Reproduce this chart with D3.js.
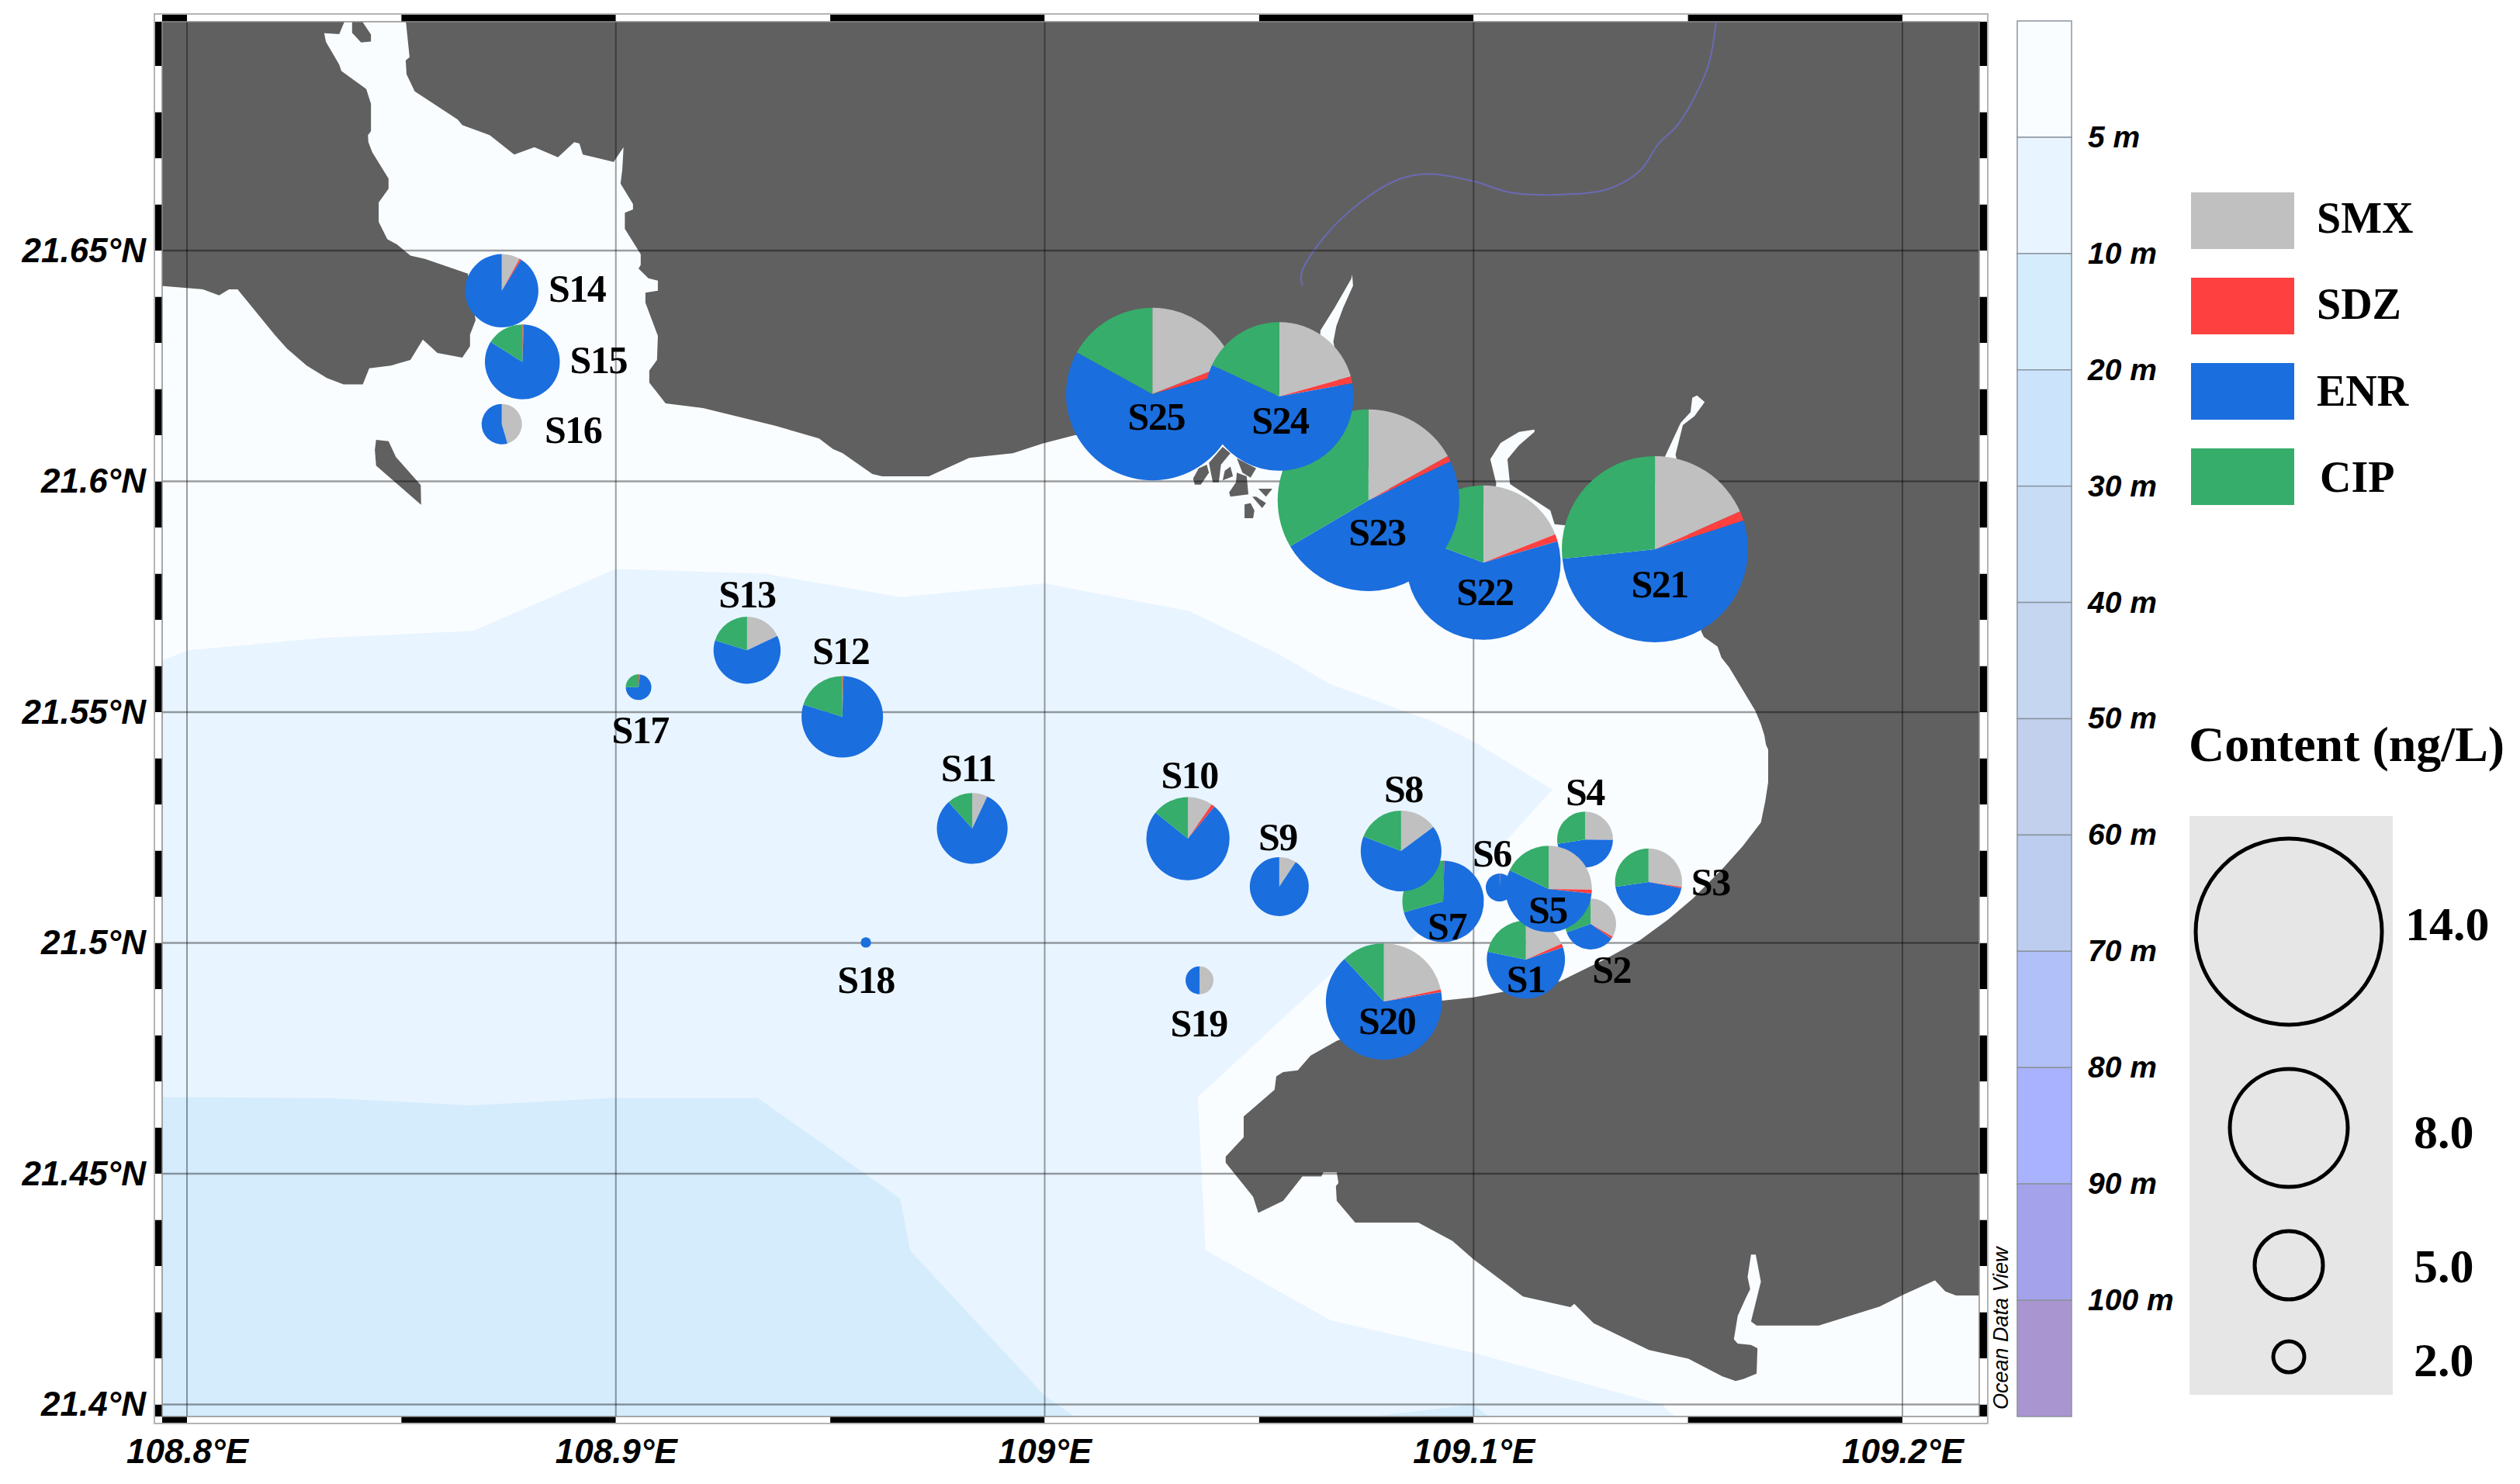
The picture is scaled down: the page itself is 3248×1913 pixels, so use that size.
<!DOCTYPE html>
<html>
<head>
<meta charset="utf-8">
<script src="https://cdn.jsdelivr.net/npm/d3@7"></script>
<style>
  html, body { margin: 0; padding: 0; background: #fff; }
  svg { display: block; }
  .tick-label text { font-family: "Liberation Sans", Arial, sans-serif; font-weight: bold; font-style: italic; fill: #000; }
  .serif { font-family: "Liberation Serif", "Times New Roman", serif; font-weight: bold; fill: #000; }
</style>
</head>
<body>
<div id="chart"></div>
<script>
// station values, ng/L
const stationNames = ["S1","S2","S3","S4","S5","S6","S7","S8","S9","S10","S11","S12","S13","S14","S15","S16","S17","S18","S19","S20","S21","S22","S23","S24","S25"];
const stationLon = [109.1122,109.1273,109.1408,109.1260,109.1175,109.1061,109.0929,109.0831,109.0547,109.0334,108.9831,108.9528,108.9306,108.8734,108.8782,108.8734,108.9053,108.9583,109.0361,109.0791,109.1423,109.1023,109.0755,109.0547,109.0251];
const stationLat = [21.4964,21.5041,21.5132,21.5224,21.5117,21.5120,21.5090,21.5199,21.5122,21.5226,21.5248,21.5490,21.5634,21.6413,21.6259,21.6124,21.5554,21.5001,21.4919,21.4873,21.5853,21.5824,21.5959,21.6184,21.6189];
const smx = [1.03,1.20,1.34,1.01,1.54,0,0,0.85,0.40,0.57,0.36,0,0.88,0.43,0,1.25,0,0,0.90,1.71,2.57,2.13,2.30,2.21,2.44];
const sdz = [0.09,0.05,0.03,0,0.09,0.01,0.03,0,0,0.08,0,0.03,0,0.04,0.03,0,0.03,0,0,0.06,0.23,0.17,0.14,0.16,0.20];
const enr = [3.26,1.26,2.19,1.89,3.38,1.79,4.07,3.80,3.85,4.41,4.19,4.60,3.03,4.83,4.50,1.50,1.21,0.67,0.90,5.18,7.47,6.74,6.61,6.39,7.99];
const cip = [1.22,1.09,1.34,1.10,1.09,0,1.70,1.10,0,0.84,0.60,1.17,0.99,0,0.87,0,0.41,0,0,0.94,3.73,2.16,4.55,1.93,2.17];

// later names sit on top
const drawOrder = ["S21","S22","S23","S25","S24","S20","S7","S8","S1","S2","S4","S6","S5","S3","S9","S10","S11","S12","S13","S14","S15","S16","S17","S18","S19"];

const speciesNames = ["SMX","SDZ","ENR","CIP"];
const speciesColors = ["#c0c0c0","#ff4040","#1a6ede","#36ad6a"];

const lonTicks = [108.8,108.9,109,109.1,109.2];
const latTicks = [21.4,21.45,21.5,21.55,21.6,21.65];

const depthLabels = ["5 m","10 m","20 m","30 m","40 m","50 m","60 m","70 m","80 m","90 m","100 m"];
const depthColors = ["#fafdff","#e8f4ff","#d5ecfd","#cbe3fb","#c8dcf5","#c5d6f0","#c2d0ee","#bccdf0","#b2c0f9","#a9b2fe","#a5a2ec","#a996d0"];

const sizeValues = [14,8,5,2];
const sizeLabels = ["14.0","8.0","5.0","2.0"];

// outlines, [lon, lat]
const depth5 = [[108.79,21.5605],[108.7945,21.5613],[108.8002,21.5634],[108.8319,21.5661],[108.8668,21.5676],[108.8999,21.5810],[108.9348,21.5800],[108.9664,21.5749],[108.9999,21.5779],[109.0337,21.5719],[109.0549,21.5624],[109.0665,21.5561],[109.0905,21.5480],[109.1005,21.5434],[109.1184,21.5332],[109.1000,21.5144],[109.0929,21.5068],[109.0848,21.5001],[109.0748,21.4992],[109.0681,21.4945],[109.0357,21.4666],[109.0375,21.4334],[109.0668,21.4182],[109.0999,21.4112],[109.1439,21.4000],[109.1498,21.395],[108.79,21.395]];
const depth10 = [[108.79,21.4666],[108.8329,21.4664],[108.8660,21.4648],[108.8991,21.4664],[108.9331,21.4664],[108.9663,21.4446],[108.9686,21.4334],[109.0001,21.4018],[109.0107,21.395],[108.79,21.395]];
const depth10b = [[109.0766,21.3974],[109.0999,21.4000],[109.1036,21.3974]];

const westLand = [[108.8369,21.70],[108.8355,21.6969],[108.8320,21.6971],[108.8324,21.6952],[108.8355,21.6903],[108.8360,21.6889],[108.8418,21.6850],[108.8429,21.6818],[108.8429,21.6759],[108.8422,21.6750],[108.8423,21.6735],[108.8432,21.6713],[108.8470,21.6656],[108.8470,21.6634],[108.8447,21.6604],[108.8447,21.6562],[108.8467,21.6525],[108.8490,21.6513],[108.8521,21.6489],[108.8555,21.6482],[108.8655,21.6450],[108.8673,21.6349],[108.8660,21.6318],[108.8660,21.6293],[108.8642,21.6268],[108.8584,21.6278],[108.8550,21.6307],[108.8521,21.6263],[108.8476,21.6251],[108.8425,21.6245],[108.8410,21.6210],[108.8365,21.6210],[108.8326,21.6224],[108.8279,21.6251],[108.8233,21.6288],[108.8204,21.6318],[108.8118,21.6416],[108.8098,21.6416],[108.8075,21.6403],[108.8037,21.6416],[108.7945,21.6423],[108.79,21.6423],[108.79,21.70]];
const estuaryIsland = [[108.8385,21.70],[108.8385,21.6972],[108.8406,21.6951],[108.8429,21.6953],[108.8429,21.6968],[108.8406,21.70]];
const mainland = [[108.8510,21.70],[108.8519,21.6919],[108.8510,21.6912],[108.8512,21.6882],[108.8531,21.6845],[108.8631,21.6784],[108.8642,21.6772],[108.8706,21.6750],[108.8763,21.6708],[108.8810,21.6724],[108.8865,21.6702],[108.8903,21.6735],[108.8915,21.6732],[108.8923,21.6708],[108.8995,21.6692],[108.9018,21.6724],[108.9015,21.6675],[108.9011,21.6645],[108.9040,21.6601],[108.9040,21.6589],[108.9021,21.6582],[108.9021,21.6547],[108.9058,21.6492],[108.9058,21.6469],[108.9053,21.6461],[108.9076,21.6440],[108.9098,21.6435],[108.9098,21.6413],[108.9069,21.6409],[108.9069,21.6387],[108.9098,21.6315],[108.9096,21.6263],[108.9078,21.6240],[108.9078,21.6214],[108.9116,21.6169],[108.9203,21.6159],[108.9373,21.6120],[108.9474,21.6093],[108.9506,21.6070],[108.9529,21.6061],[108.9598,21.6016],[108.9621,21.6011],[108.9730,21.6011],[108.9824,21.6051],[108.9926,21.6061],[108.9995,21.6082],[109.0070,21.6100],[109.0278,21.6102],[109.0459,21.6135],[109.0639,21.6253],[109.0643,21.6327],[109.0676,21.6376],[109.0715,21.6439],[109.0717,21.6448],[109.0719,21.6424],[109.0696,21.6376],[109.0680,21.6336],[109.0673,21.6302],[109.0685,21.6253],[109.0676,21.6102],[109.0820,21.5967],[109.0965,21.5900],[109.1047,21.5967],[109.1053,21.5995],[109.1039,21.6048],[109.1063,21.6083],[109.1106,21.6107],[109.1142,21.6112],[109.1142,21.6107],[109.1106,21.6078],[109.1079,21.6048],[109.1085,21.5994],[109.1179,21.5937],[109.1189,21.5907],[109.1210,21.5905],[109.1363,21.5900],[109.1446,21.6034],[109.1446,21.6053],[109.1483,21.6127],[109.1506,21.6150],[109.1510,21.6181],[109.1521,21.6186],[109.1539,21.6172],[109.1515,21.6141],[109.1488,21.6122],[109.1471,21.6058],[109.1481,21.6018],[109.1531,21.5675],[109.1537,21.5663],[109.1569,21.5642],[109.1578,21.5618],[109.1596,21.5597],[109.1657,21.5503],[109.1670,21.5474],[109.1678,21.5450],[109.1682,21.5429],[109.1687,21.5419],[109.1687,21.5348],[109.1680,21.5306],[109.1670,21.5261],[109.1628,21.5210],[109.1582,21.5162],[109.1511,21.5096],[109.1454,21.5051],[109.1388,21.5006],[109.1311,21.4967],[109.1202,21.4917],[109.0999,21.4882],[109.0925,21.4875],[109.0681,21.4788],[109.0620,21.4756],[109.0590,21.4724],[109.0556,21.4720],[109.0540,21.4711],[109.0536,21.4682],[109.0464,21.4624],[109.0464,21.4579],[109.0422,21.4537],[109.0422,21.4524],[109.0486,21.4450],[109.0498,21.4415],[109.0556,21.4441],[109.0601,21.4494],[109.0645,21.4494],[109.0650,21.4503],[109.0681,21.4503],[109.0685,21.4480],[109.0679,21.4473],[109.0681,21.4441],[109.0724,21.4394],[109.0871,21.4394],[109.0951,21.4354],[109.0999,21.4315],[109.1115,21.4234],[109.1226,21.4211],[109.1235,21.4218],[109.1280,21.4176],[109.1409,21.4118],[109.1501,21.4099],[109.1580,21.4061],[109.1611,21.4051],[109.1629,21.4055],[109.1660,21.4067],[109.1662,21.4122],[109.1647,21.4129],[109.1616,21.4132],[109.1607,21.4141],[109.1616,21.4192],[109.1635,21.4231],[109.1645,21.4250],[109.1639,21.4276],[109.1647,21.4325],[109.1658,21.4325],[109.1670,21.4266],[109.1647,21.4180],[109.1660,21.4171],[109.1805,21.4171],[109.1947,21.4212],[109.2002,21.4238],[109.2076,21.4269],[109.2100,21.4245],[109.2125,21.4236],[109.225,21.4236],[109.225,21.70]];
const westIsland = [[108.8441,21.6090],[108.8470,21.6087],[108.8487,21.6053],[108.8545,21.5992],[108.8546,21.5949],[108.8441,21.6034],[108.8438,21.6068]];
const smallIslands = [
  [[109.0346,21.6006],[109.0359,21.6028],[109.0378,21.6036],[109.0383,21.6019],[109.0364,21.5993],[109.0350,21.5993]],
  [[109.0383,21.6040],[109.0415,21.6075],[109.0433,21.6061],[109.0411,21.6036],[109.0406,21.5998],[109.0392,21.5998]],
  [[109.0420,21.6023],[109.0433,21.6032],[109.0439,21.6011],[109.0415,21.6002]],
  [[109.0448,21.6050],[109.0493,21.6028],[109.0480,21.6008],[109.0461,21.6019]],
  [[109.0448,21.6019],[109.0471,21.6011],[109.0475,21.5972],[109.0433,21.5967],[109.0430,21.5976],[109.0446,21.5998]],
  [[109.0498,21.5984],[109.0531,21.5984],[109.0516,21.5967]],
  [[109.0484,21.5967],[109.0493,21.5967],[109.0516,21.5953],[109.0507,21.5942]],
  [[109.0466,21.5950],[109.0480,21.5953],[109.0489,21.5937],[109.0486,21.5920],[109.0466,21.5920]]
];
const river = [[109.0601,21.6424],[109.0598,21.6448],[109.0633,21.6507],[109.0717,21.6590],[109.0822,21.6653],[109.0895,21.6666],[109.1001,21.6650],[109.1085,21.6626],[109.1200,21.6621],[109.1316,21.6634],[109.1388,21.6673],[109.1431,21.6731],[109.1478,21.6775],[109.1546,21.6897],[109.1566,21.70]];

// pixel offset of each station label from its pie centre
const labelOffset = {S1:[0,42],S2:[27,76],S3:[80,17],S4:[0,-44],S5:[-1,44],S6:[-10,-27],S7:[5,49],S8:[3,-63],S9:[-2,-47],S10:[2,-65],S11:[-5,-61],S12:[-2,-68],S13:[0,-55],S14:[97,14],S15:[98,15],S16:[92,24],S17:[2,72],S18:[0,65],S19:[-1,72],S20:[4,42],S21:[6,62],S22:[2,55],S23:[11,58],S24:[1,48],S25:[5,46]};

const width = 3248, height = 1913;
const frame = {left: 209, right: 2551, top: 28, bottom: 1826, bar: 10};

const x = d3.scaleLinear().domain([108.8, 109.2]).range([241, 2452]);
const y = d3.scaleLinear().domain([21.4, 21.65]).range([1810.5, 323]);
const rScale = d3.scaleLinear().domain([0, 2, 5, 8, 14]).range([0, 20, 44, 76, 120]);

const svg = d3.select("#chart").append("svg")
  .attr("width", width)
  .attr("height", height)
  .attr("viewBox", "0 0 " + width + " " + height);

svg.append("clipPath").attr("id", "mapClip").append("rect")
  .attr("x", frame.left).attr("y", frame.top)
  .attr("width", frame.right - frame.left).attr("height", frame.bottom - frame.top);

const outline = d3.line().x(d => x(d[0])).y(d => y(d[1]));
const shape = pts => outline(pts) + "Z";

// map
const map = svg.append("g").attr("clip-path", "url(#mapClip)");
map.append("rect")
  .attr("x", frame.left).attr("y", frame.top)
  .attr("width", frame.right - frame.left).attr("height", frame.bottom - frame.top)
  .attr("fill", depthColors[0]);
map.append("path").attr("d", shape(depth5)).attr("fill", depthColors[1]);
map.append("path").attr("d", shape(depth10)).attr("fill", depthColors[2]);
map.append("path").attr("d", shape(depth10b)).attr("fill", depthColors[2]);

const land = [westLand, estuaryIsland, mainland, westIsland].concat(smallIslands);
map.selectAll("path.land").data(land).enter().append("path")
  .attr("class", "land")
  .attr("d", shape)
  .attr("fill", "#606060");

map.append("path")
  .attr("d", d3.line().x(d => x(d[0])).y(d => y(d[1])).curve(d3.curveCatmullRom)(river))
  .attr("fill", "none")
  .attr("stroke", "#6a6ab4")
  .attr("stroke-width", 2);

// grid
map.selectAll("line.gridx").data(lonTicks).enter().append("line")
  .attr("class", "gridx")
  .attr("x1", d => x(d)).attr("x2", d => x(d))
  .attr("y1", frame.top).attr("y2", frame.bottom)
  .attr("stroke", "#000").attr("stroke-opacity", 0.38).attr("stroke-width", 2);
map.selectAll("line.gridy").data(latTicks).enter().append("line")
  .attr("class", "gridy")
  .attr("x1", frame.left).attr("x2", frame.right)
  .attr("y1", d => y(d)).attr("y2", d => y(d))
  .attr("stroke", "#000").attr("stroke-opacity", 0.38).attr("stroke-width", 2.5);

// black and white frame bars
const lonCells = d3.range(2175, 2186).map(d => d / 20);
const latCells = d3.range(2139, 2170).map(d => d / 100);
const barColor = v => v % 2 === 1 ? "#000" : "#fff";
const bars = svg.append("g");

[frame.top - frame.bar, frame.bottom].forEach(function(barY) {
  bars.selectAll(null).data(lonCells).enter().append("rect")
    .attr("x", d => Math.max(x(d), frame.left))
    .attr("y", barY)
    .attr("width", d => Math.max(0, Math.min(x(d + 0.05), frame.right) - Math.max(x(d), frame.left)))
    .attr("height", frame.bar)
    .attr("fill", d => barColor(Math.round(d * 20)));
});
[frame.left - frame.bar, frame.right].forEach(function(barX) {
  bars.selectAll(null).data(latCells).enter().append("rect")
    .attr("x", barX)
    .attr("y", d => Math.max(y(d + 0.01), frame.top))
    .attr("width", frame.bar + (barX === frame.right ? 1 : 0))
    .attr("height", d => Math.max(0, Math.min(y(d), frame.bottom) - Math.max(y(d + 0.01), frame.top)))
    .attr("fill", d => barColor(Math.round(d * 100)));
});
bars.append("rect")
  .attr("x", frame.left - frame.bar).attr("y", frame.top - frame.bar)
  .attr("width", frame.right - frame.left + 2 * frame.bar + 1)
  .attr("height", frame.bottom - frame.top + 2 * frame.bar - 1)
  .attr("fill", "none").attr("stroke", "#b4b4b4").attr("stroke-width", 2);
bars.append("rect")
  .attr("x", frame.left).attr("y", frame.top)
  .attr("width", frame.right - frame.left).attr("height", frame.bottom - frame.top)
  .attr("fill", "none").attr("stroke", "#8c8c8c").attr("stroke-width", 1.5);

// axis labels
const xAxis = svg.append("g").attr("class", "tick-label")
  .attr("transform", "translate(0," + (frame.bottom + frame.bar) + ")")
  .call(d3.axisBottom(x).tickValues(lonTicks).tickFormat(d => d + "°E").tickSize(0).tickPadding(19));
xAxis.select(".domain").remove();
xAxis.selectAll("text").attr("font-size", 44);

const yAxis = svg.append("g").attr("class", "tick-label")
  .attr("transform", "translate(" + (frame.left - frame.bar) + ",0)")
  .call(d3.axisLeft(y).tickValues(latTicks).tickFormat(d => d + "°N").tickSize(0).tickPadding(11));
yAxis.select(".domain").remove();
yAxis.selectAll("text").attr("font-size", 44);

// pies
const pie = d3.pie().sort(null).value(d => d.value);
const arc = d3.arc().innerRadius(0);
const stations = stationNames.map(function(name, i) {
  const parts = [smx[i], sdz[i], enr[i], cip[i]];
  return {
    name: name,
    lon: stationLon[i],
    lat: stationLat[i],
    total: d3.sum(parts),
    slices: parts.map((v, j) => ({value: v, color: speciesColors[j]}))
  };
});
const byName = new Map(stations.map(d => [d.name, d]));

const pies = svg.append("g").selectAll("g").data(drawOrder.map(n => byName.get(n))).enter().append("g")
  .attr("transform", d => "translate(" + x(d.lon) + "," + y(d.lat) + ")");
pies.selectAll("path").data(d => pie(d.slices).map(s => Object.assign(s, {r: rScale(d.total)}))).enter().append("path")
  .attr("d", s => arc.outerRadius(s.r)(s))
  .attr("fill", s => s.data.color);

svg.append("g").selectAll("text").data(stations).enter().append("text")
  .attr("class", "serif")
  .attr("x", d => x(d.lon) + labelOffset[d.name][0])
  .attr("y", d => y(d.lat) + labelOffset[d.name][1])
  .attr("text-anchor", "middle")
  .attr("font-size", 50)
  .attr("letter-spacing", -1.5)
  .text(d => d.name);

// depth colour bar
const barScale = d3.scaleLinear().domain([0, depthColors.length]).range([27, 1826]);
const depthBar = svg.append("g");
depthBar.selectAll("rect").data(depthColors).enter().append("rect")
  .attr("x", 2600)
  .attr("y", (d, i) => barScale(i))
  .attr("width", 70)
  .attr("height", (d, i) => barScale(i + 1) - barScale(i))
  .attr("fill", d => d)
  .attr("stroke", "#8a949e")
  .attr("stroke-width", 1.5);

const depthAxis = svg.append("g").attr("class", "tick-label")
  .attr("transform", "translate(2670,0)")
  .call(d3.axisRight(barScale).tickValues(d3.range(1, depthColors.length))
    .tickFormat(i => depthLabels[i - 1]).tickSize(0).tickPadding(21));
depthAxis.select(".domain").remove();
depthAxis.selectAll("text").attr("font-size", 39);

svg.append("text")
  .attr("transform", "translate(2588,1817) rotate(-90)")
  .attr("font-family", "Liberation Sans, Arial, sans-serif")
  .attr("font-style", "italic")
  .attr("font-size", 27)
  .attr("fill", "#000")
  .text("Ocean Data View");

// species legend
const legendY = d3.scalePoint().domain(speciesNames).range([248, 578]);
const legendTextY = d3.scalePoint().domain(speciesNames).range([300, 634]);
const legend = svg.append("g");
legend.selectAll("rect").data(speciesNames).enter().append("rect")
  .attr("x", 2824)
  .attr("y", d => legendY(d))
  .attr("width", 133).attr("height", 73)
  .attr("fill", (d, i) => speciesColors[i]);
legend.selectAll("text").data(speciesNames).enter().append("text")
  .attr("class", "serif")
  .attr("x", d => d === "CIP" ? 2990 : 2986)
  .attr("y", d => legendTextY(d))
  .attr("font-size", 56)
  .text(d => d);

// size legend
svg.append("text")
  .attr("class", "serif")
  .attr("x", 2821).attr("y", 981)
  .attr("font-size", 64)
  .text("Content (ng/L)");
svg.append("rect")
  .attr("x", 2822).attr("y", 1052)
  .attr("width", 262).attr("height", 746)
  .attr("fill", "#e6e6e6");

const sizeY = d3.scaleOrdinal().domain(sizeValues).range([1201, 1454, 1631, 1749]);
const sizeTextY = d3.scaleOrdinal().domain(sizeValues).range([1212, 1480, 1653, 1774]);
svg.append("g").selectAll("circle").data(sizeValues).enter().append("circle")
  .attr("cx", 2950)
  .attr("cy", d => sizeY(d))
  .attr("r", d => rScale(d))
  .attr("fill", "none")
  .attr("stroke", "#000")
  .attr("stroke-width", 5);
svg.append("g").selectAll("text").data(sizeValues).enter().append("text")
  .attr("class", "serif")
  .attr("x", (d, i) => i === 0 ? 3100 : 3111)
  .attr("y", d => sizeTextY(d))
  .attr("font-size", 62)
  .text((d, i) => sizeLabels[i]);
</script>
</body>
</html>
